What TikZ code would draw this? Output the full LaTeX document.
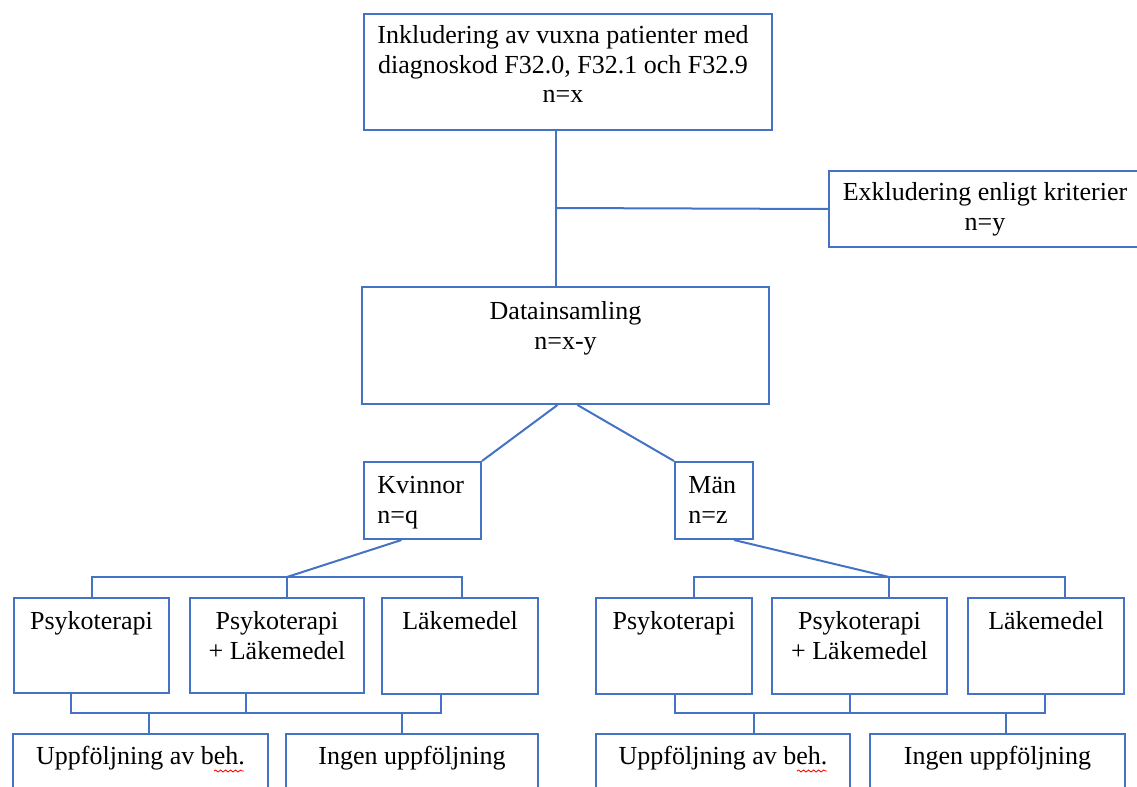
\documentclass[tikz,border=0pt]{standalone}
\usepackage{fontspec}
\setmainfont{Liberation Serif}
\usetikzlibrary{calc,decorations.pathmorphing}
\definecolor{lineblue}{RGB}{68,114,196}
\tikzset{
  box/.style={draw=lineblue, line width=1pt, rectangle, inner sep=0pt, anchor=north west},
  boxtxt/.style={font=\fontsize{13}{14.8}\selectfont, align=center, inner sep=0pt, anchor=north},
  link/.style={draw=lineblue, line width=1pt},
  spell/.style={draw=red, line width=0.4pt, decorate, decoration={snake, amplitude=0.5pt, segment length=2.5pt}}
}
\begin{document}
\begin{tikzpicture}[x=0.5pt,y=-0.5pt]
  \useasboundingbox (0,0) rectangle (1137,787);
  \clip (0,0) rectangle (1137,787);
  % upper boxes
  \node[box, minimum width=204pt, minimum height=58pt] (incl) at (363,13) {};
  \node[boxtxt] (incl-t) at ($(incl.north)+(-5,12)$) {Inkludering av vuxna patienter med\\diagnoskod F32.0, F32.1 och F32.9\\n=x};
  \node[box, minimum width=156pt, minimum height=38pt] (excl) at (828,170) {};
  \node[boxtxt] (excl-t) at ($(excl.north)+(0,12)$) {Exkludering enligt kriterier\\n=y};
  \node[box, minimum width=203.5pt, minimum height=58.5pt] (data) at (361,286) {};
  \node[boxtxt] (data-t) at ($(data.north)+(0,15)$) {Datainsamling\\n=x-y};
  \node[box, minimum width=58.5pt, minimum height=38.5pt] (kv) at (363,461) {};
  \node[boxtxt, anchor=north west, align=left] (kv-t) at ($(kv.north west)+(14,15)$) {Kvinnor\\n=q};
  \node[box, minimum width=39pt, minimum height=38.5pt] (man) at (674,461) {};
  \node[boxtxt, anchor=north west, align=left] (man-t) at ($(man.north west)+(14,15)$) {Män\\n=z};
  % kvinnor, behandling
  \node[box, minimum width=77.5pt, minimum height=47.5pt] (kp) at (13,597) {};
  \node[boxtxt] (kp-t) at ($(kp.north)+(0,14)$) {Psykoterapi};
  \node[box, minimum width=87pt, minimum height=47.5pt] (kpl) at (189,597) {};
  \node[boxtxt] (kpl-t) at ($(kpl.north)+(0,14)$) {Psykoterapi\\+ Läkemedel};
  \node[box, minimum width=78pt, minimum height=48pt] (kl) at (381,597) {};
  \node[boxtxt] (kl-t) at ($(kl.north)+(0,14)$) {Läkemedel};
  \node[box, minimum width=127.5pt, minimum height=40pt] (ku) at (12,733) {};
  \node[boxtxt] (ku-t) at ($(ku.north)+(0,13)$) {Uppföljning av beh.};
  \node[box, minimum width=126pt, minimum height=40pt] (ki) at (285,733) {};
  \node[boxtxt] (ki-t) at ($(ki.north)+(0,13)$) {Ingen uppföljning};
  % män, behandling
  \node[box, minimum width=78pt, minimum height=48pt] (mp) at (595,597) {};
  \node[boxtxt] (mp-t) at ($(mp.north)+(0,14)$) {Psykoterapi};
  \node[box, minimum width=87.5pt, minimum height=48pt] (mpl) at (771,597) {};
  \node[boxtxt] (mpl-t) at ($(mpl.north)+(0,14)$) {Psykoterapi\\+ Läkemedel};
  \node[box, minimum width=78pt, minimum height=48pt] (ml) at (967,597) {};
  \node[boxtxt] (ml-t) at ($(ml.north)+(0,14)$) {Läkemedel};
  \node[box, minimum width=127pt, minimum height=40pt] (mu) at (595,733) {};
  \node[boxtxt] (mu-t) at ($(mu.north)+(0,13)$) {Uppföljning av beh.};
  \node[box, minimum width=127.5pt, minimum height=40pt] (mi) at (869,733) {};
  \node[boxtxt] (mi-t) at ($(mi.north)+(0,13)$) {Ingen uppföljning};
  % joints
  \coordinate (excljoin) at (556,208);
  \coordinate (kjoin) at (287,577);
  \coordinate (kt1) at (92,577);
  \coordinate (kt3) at (462,577);
  \coordinate (kb1) at (71,713);
  \coordinate (kb2) at (246,713);
  \coordinate (kb3) at (441,713);
  \coordinate (kd1) at (149,713);
  \coordinate (kd2) at (402,713);
  \coordinate (mjoin) at (889,577);
  \coordinate (mt1) at (694,577);
  \coordinate (mt3) at (1065,577);
  \coordinate (mb1) at (675,713);
  \coordinate (mb2) at (850,713);
  \coordinate (mb3) at (1045,713);
  \coordinate (md1) at (754,713);
  \coordinate (md2) at (1006,713);
  % lines
  \draw[link] (incl.south -| excljoin) -- (data.north -| excljoin);
  \draw[link] (excljoin) -- (excl.west);
  \draw[link] ($(data.south)+(-8,0)$) -- (kv.north east);
  \draw[link] ($(data.south)+(12,0)$) -- (man.north west);
  \draw[link] ($(kv.south)+(-21,0)$) -- (kjoin);
  \draw[link] (kt1 |- kp.north) -- (kt1) -- (kt3) -- (kt3 |- kl.north);
  \draw[link] (kjoin) -- (kjoin |- kpl.north);
  \draw[link] (kb1 |- kp.south) -- (kb1) -- (kb3) -- (kb3 |- kl.south);
  \draw[link] (kb2 |- kpl.south) -- (kb2);
  \draw[link] (kd1) -- (kd1 |- ku.north);
  \draw[link] (kd2) -- (kd2 |- ki.north);
  \draw[link] ($(man.south)+(20,0)$) -- (mjoin);
  \draw[link] (mt1 |- mp.north) -- (mt1) -- (mt3) -- (mt3 |- ml.north);
  \draw[link] (mjoin) -- (mjoin |- mpl.north);
  \draw[link] (mb1 |- mp.south) -- (mb1) -- (mb3) -- (mb3 |- ml.south);
  \draw[link] (mb2 |- mpl.south) -- (mb2);
  \draw[link] (md1) -- (md1 |- mu.north);
  \draw[link] (md2) -- (md2 |- mi.north);
  % spelling marks
  \draw[spell] (214,771) -- (244,771);
  \draw[spell] (797,771) -- (827,771);
\end{tikzpicture}
\end{document}
